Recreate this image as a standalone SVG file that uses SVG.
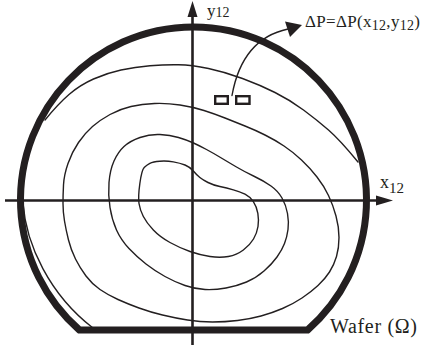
<svg xmlns="http://www.w3.org/2000/svg" width="425" height="350" viewBox="0 0 425 350">
<style>
.thin{fill:none;stroke:#231f20;stroke-width:1.4;stroke-linejoin:round;stroke-linecap:round}
.axis{fill:none;stroke:#231f20;stroke-width:2.6}
.wafer{fill:none;stroke:#231f20;stroke-width:7;stroke-linejoin:miter}
.head{fill:#231f20;stroke:none}
.box{fill:#fff;stroke:#231f20;stroke-width:2.4}
text{font-family:"Liberation Serif","Times New Roman",serif;fill:#231f20}
</style>
<rect width="425" height="350" fill="#fff"/>
<g id="contours">
<path class="thin" d="M139,203.5 Q138,197 139.850,183.5 Q141.7,170 144.2,167.5 Q146.7,165 149.85,163.35 Q153,161.7 159.85,161.2 Q166.7,160.7 173.35,161.85 Q180,163 185,165 Q190,167 193.35,171 Q196.7,175 199.85,177.5 Q203,180 208,182.5 Q213,185 219.85,186.5 Q226.7,188 233.35,189.85 Q240,191.7 245,194.2 Q250,196.7 253.35,201.7 Q256.7,206.7 257.85,213.35 Q259,220 258,226.5 Q257,233 253.5,239 Q250,245 243.35,250 Q236.7,255 228.35,256.5 Q220,258 210,256.5 Q200,255 190,251.5 Q180,248 170,242.5 Q160,237 153.35,230 Q146.7,223 143.35,216.5 Q140,210 139,203.5 Z"/>
<path class="thin" d="M110,207.5 Q108,195 109,182.5 Q110,170 114,161 Q118,152 124,146.5 Q130,141 140,137.5 Q150,134 160,134.5 Q170,135 178.5,137.5 Q187,140 193.5,143 Q200,146 206.5,149.5 Q213,153 220.5,157.5 Q228,162 236.5,167 Q245,172 254.5,176.5 Q264,181 271,186 Q278,191 282,198 Q286,205 287.5,213.5 Q289,222 288,229.5 Q287,237 284.5,243.5 Q282,250 277,257 Q272,264 264,271 Q256,278 246.5,282 Q237,286 226,288 Q215,290 205,289.5 Q195,289 185,285.5 Q175,282 165,276.5 Q155,271 146,264 Q137,257 129,248.5 Q121,240 116.5,230 Q112,220 110,207.5 Z"/>
<path class="thin" d="M63,203.5 Q63,195 63.5,185 Q64,175 68,163.5 Q72,152 78.5,142.5 Q85,133 92.5,126.5 Q100,120 110,114.5 Q120,109 131,106.5 Q142,104 154.5,103.5 Q167,103 180,105 Q193,107 204,110.5 Q215,114 225,118 Q235,122 245,126 Q255,130 265,135 Q275,140 284,146 Q293,152 301.5,160 Q310,168 317,177 Q324,186 328.5,195.5 Q333,205 336,216 Q339,227 339,237.5 Q339,248 336.5,256.5 Q334,265 329.5,272 Q325,279 318,285.5 Q311,292 302,298 Q293,304 282.5,308.5 Q272,313 261,316 Q250,319 237.5,320.5 Q225,322 212.5,322 Q200,322 187.5,320 Q175,318 162.5,315 Q150,312 139,308 Q128,304 118,299.5 Q108,295 100,289.5 Q92,284 86,276 Q80,268 75.5,259 Q71,250 68.5,240 Q66,230 64.5,221 Q63,212 63,203.5 Z"/>
<path class="thin" d="M45,120 Q58,104 69,94.5 Q80,85 93.5,79 Q107,73 121,70 Q135,67 150,65.75 Q165,64.5 178.5,64.75 Q192,65 208.5,68.5 Q225,72 242.5,78.5 Q260,85 275,92.5 Q290,100 303.5,110 Q317,120 328.5,130 Q340,140 358,162"/>
<path class="thin" d="M23,203 C26,245 50,295 93,328"/>
</g>
<g id="wafer">
<path class="wafer" d="M79.4,330 A173,173 0 1 1 307.6,330 Z"/>
</g>
<g id="axes">
<line class="axis" x1="5" y1="200.5" x2="378" y2="200.5"/>
<polygon class="head" points="393,200.5 376,195.5 376,205.5"/>
<line class="axis" x1="192.5" y1="16" x2="192.5" y2="345"/>
<polygon class="head" points="192.5,1 187.5,17 197.5,17"/>
<text x="207" y="15.5" font-size="17">y<tspan font-size="14" dy="1.5">12</tspan></text>
<text x="380" y="188" font-size="18">x<tspan font-size="15" dy="5">12</tspan></text>
</g>
<g id="element">
<rect class="box" x="215.2" y="96.2" width="12.6" height="7.6"/>
<rect class="box" x="236.2" y="96.2" width="13.3" height="7.6"/>
</g>
<g id="connectors">
<path class="thin" d="M232,95.5 C238,62 255,36 288,29"/>
<polygon class="head" points="302,25 285,21.5 290,37"/>
</g>
<g id="labels">
<text x="305" y="27.3" font-size="17" textLength="115" lengthAdjust="spacing">ΔP=ΔP(x<tspan font-size="14" dy="3">12</tspan><tspan dy="-3">,y</tspan><tspan font-size="14" dy="3">12</tspan><tspan dy="-3">)</tspan></text>
<text x="330" y="333" font-size="20" textLength="87" lengthAdjust="spacing">Wafer (Ω)</text>
</g>
</svg>
